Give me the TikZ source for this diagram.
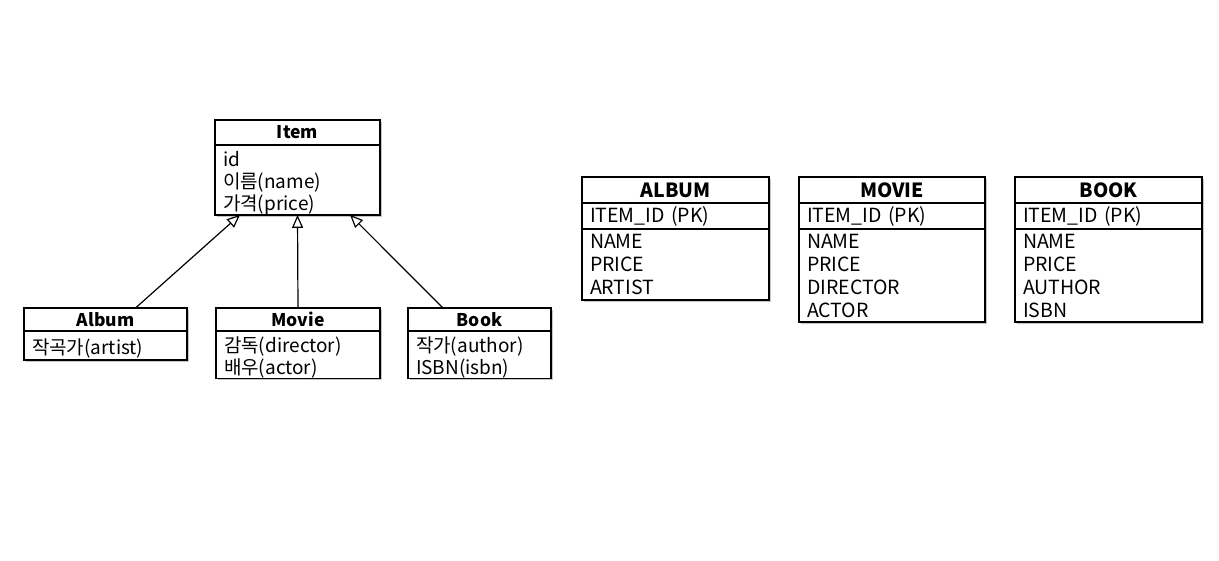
\documentclass[tikz,border=0pt]{standalone}
\usepackage{fontspec}
\setmainfont{Noto Sans CJK KR}
\usetikzlibrary{positioning,arrows.meta,shadows}

\tikzset{
    box/.style={draw, line width=1.3pt, fill=white, inner ysep=0pt, inner xsep=8pt, outer sep=0pt,
        drop shadow={shadow xshift=2pt, shadow yshift=-2pt, opacity=0.45}},
    hdr/.style={box, font=\fontsize{17.5}{20}\selectfont\bfseries},
    thdr/.style={box, font=\fontsize{19.5}{22}\selectfont\bfseries},
    body/.style={box, align=left, font=\fontsize{19}{22}\selectfont,
        execute at begin node={\rule{0pt}{21.5pt}}},
    col/.style={box, align=left, font=\fontsize{19.5}{23}\selectfont},
    inh/.style={line width=1.2pt, -{Triangle[open, length=13pt, width=11pt]}}
}

\begin{document}
\begin{tikzpicture}[x=1pt, y=-1pt]
        \useasboundingbox (0,0) rectangle (1219,560);

        % Classi (modello a oggetti)
        \node[hdr, minimum width=165pt, minimum height=25pt] (item) at (297.5,132.5) {Item};
        \node[body, minimum width=165pt, minimum height=67pt, text width=149pt, below=0pt of item] (itemb)
            {id\\이름(name)\\가격(price)};

        \node[hdr, minimum width=163pt, minimum height=23pt] (album) at (105.5,319.5) {Album};
        \node[body, minimum width=163pt, minimum height=29pt, text width=147pt, below=0pt of album] (albumb)
            {작곡가(artist)};

        \node[hdr, minimum width=164pt, minimum height=23pt] (movie) at (298,319.5) {Movie};
        \node[body, minimum width=164pt, minimum height=47pt, text width=148pt, below=0pt of movie] (movieb)
            {감독(director)\\배우(actor)};

        \node[hdr, minimum width=143pt, minimum height=23pt] (book) at (479.5,319.5) {Book};
        \node[body, minimum width=143pt, minimum height=47pt, text width=127pt, below=0pt of book] (bookb)
            {작가(author)\\ISBN(isbn)};

        % Ereditarieta
        \draw[inh] ([xshift=30pt]album.north) -- ([xshift=-57.5pt]itemb.south);
        \draw[inh] (movie.north) -- (itemb.south);
        \draw[inh] ([xshift=-36.5pt]book.north) -- ([xshift=52.5pt]itemb.south);

        % Tabelle
        \node[thdr, minimum width=187pt, minimum height=26pt] (talbum) at (675.5,190) {ALBUM};
        \node[col, minimum width=187pt, minimum height=26pt, text width=171pt, below=0pt of talbum] (talbumk) {ITEM\_ID (PK)};
        \node[col, minimum width=187pt, minimum height=71pt, text width=171pt, below=0pt of talbumk] (talbumc)
            {NAME\\PRICE\\ARTIST};

        \node[thdr, minimum width=186pt, minimum height=26pt] (tmovie) at (892,190) {MOVIE};
        \node[col, minimum width=186pt, minimum height=26pt, text width=170pt, below=0pt of tmovie] (tmoviek) {ITEM\_ID (PK)};
        \node[col, minimum width=186pt, minimum height=93pt, text width=170pt, below=0pt of tmoviek] (tmoviec)
            {NAME\\PRICE\\DIRECTOR\\ACTOR};

        \node[thdr, minimum width=187pt, minimum height=26pt] (tbook) at (1108.5,190) {BOOK};
        \node[col, minimum width=187pt, minimum height=26pt, text width=171pt, below=0pt of tbook] (tbookk) {ITEM\_ID (PK)};
        \node[col, minimum width=187pt, minimum height=93pt, text width=171pt, below=0pt of tbookk] (tbookc)
            {NAME\\PRICE\\AUTHOR\\ISBN};
    \end{tikzpicture}
\end{document}
